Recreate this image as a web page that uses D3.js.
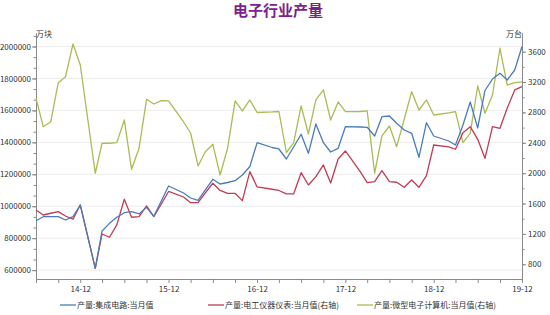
<!DOCTYPE html>
<html>
<head>
<meta charset="utf-8">
<script src="https://cdn.jsdelivr.net/npm/d3@7"></script>
<style>
  body { margin: 0; background: #fff; }
  text { font-family: "Noto Sans CJK SC", "Noto Sans", sans-serif; }
</style>
</head>
<body>
<script>
// monthly data, 2014-06 .. 2019-12 (January not published -> null)
const startMonth = new Date(2014, 5, 1);
const endMonth = new Date(2019, 11, 1);

// 产量:集成电路:当月值 (万块, left axis)
const icOutput = [
  909000, 934500, 934500, 934500, 914000, 934500, 1007800, null,
  611500, 845000, 893000, 930800, 959600, 965800, 951500, 993400, 937000, 1032800, 1126700, null,
  1082900, 1051600, 1036000, 1101700, 1168700, 1139250, 1148600, 1159900, 1195600, 1248800, 1397800, null,
  1367700, 1358400, 1295800, 1370900, 1450400, 1331400, 1514800, 1397800, 1339600, 1362700, 1497900, null,
  1496100, 1494200, 1439700, 1560500, 1564900, 1519200, 1477300, 1456600, 1306400, 1523000, 1439700, null,
  1408400, 1383400, 1508600, 1652600, 1489800, 1724600, 1796600, 1832200, 1790300, 1852900, 2000000
];

// 产量:电工仪器仪表:当月值 (万台, right axis)
const meterOutput = [
  1515, 1449, 1472, 1493, 1436, 1393, 1581, null,
  747, 1199, 1156, 1318, 1656, 1419, 1427, 1568, 1427, 1594, 1759, null,
  1686, 1611, 1611, 1739, 1867, 1772, 1735, 1735, 1638, 2020, 1818, null,
  1788, 1772, 1726, 1726, 2006, 1844, 1954, 2108, 1871, 2187, 2292, null,
  2016, 1875, 1888, 2033, 1888, 1880, 1814, 1910, 1814, 1967, 2371, null,
  2345, 2315, 2533, 2612, 2446, 2196, 2612, 2591, 2859, 3096, 3139
];

// 产量:微型电子计算机:当月值 (万台, right axis)
const pcOutput = [
  2986, 2612, 2678, 3192, 3271, 3701, 3425, null,
  1999, 2394, 2394, 2402, 2701, 2051, 2328, 2973, 2911, 2955, 2951, null,
  2674, 2529, 2095, 2283, 2380, 1976, 2328, 2951, 2819, 2964, 2799, null,
  2806, 2812, 2272, 2398, 2885, 2516, 2964, 3096, 2700, 2938, 2810, null,
  2812, 2819, 1999, 2490, 2621, 2349, 2710, 3073, 2832, 2964, 2766, null,
  2793, 2810, 2402, 2525, 3148, 2789, 3030, 3645, 3161, 3192, 3201
];

const leftTicks = [600000, 800000, 1000000, 1200000, 1400000, 1600000, 1800000, 2000000];
const rightTicks = [800, 1200, 1600, 2000, 2400, 2800, 3200, 3600];
const seriesNames = ['产量:集成电路:当月值', '产量:电工仪器仪表:当月值(右轴)', '产量:微型电子计算机:当月值(右轴)'];
const colors = ['#4a7cbb', '#c23b55', '#a8bd55'];

const months = d3.timeMonth.range(startMonth, d3.timeMonth.offset(endMonth, 1));

const W = 550, H = 315;
const plot = { left: 36, right: 522, top: 33, bottom: 279 };

const svg = d3.select('body').append('svg')
  .attr('width', W).attr('height', H)
  .style('background', '#fff');

const x = d3.scaleTime().domain([startMonth, endMonth]).range([plot.left, plot.right]);
const yL = d3.scaleLinear().domain([544500, 2084500]).range([plot.bottom, plot.top]);
const yR = d3.scaleLinear().domain([606, 3846]).range([plot.bottom, plot.top]);

// title
svg.append('text')
  .attr('x', 278).attr('y', 16)
  .attr('text-anchor', 'middle')
  .attr('font-size', 15).attr('font-weight', 'bold')
  .attr('fill', '#7d1f8c')
  .text('电子行业产量');

// grid
svg.append('g').selectAll('line').data(leftTicks).join('line')
  .attr('x1', plot.left).attr('x2', plot.right)
  .attr('y1', d => yL(d)).attr('y2', d => yL(d))
  .attr('stroke', '#ececec').attr('stroke-width', 1);

const axisColor = '#8a8a8a';
function styleAxis(g) {
  g.selectAll('.domain').attr('stroke', axisColor);
  g.selectAll('line').attr('stroke', axisColor);
  g.selectAll('text').attr('fill', '#333').attr('font-size', 8)
    .style('font-family', '"Noto Sans CJK SC", sans-serif');
}

// left axis: minor ticks every third of a major step
const leftMinor = d3.range(600000, 2066667, 200000 / 3);
svg.append('g').attr('transform', `translate(${plot.left},0)`)
  .call(d3.axisLeft(yL).tickValues(leftMinor).tickSize(2.5).tickFormat('').tickSizeOuter(0))
  .call(styleAxis);
svg.append('g').attr('transform', `translate(${plot.left},0)`)
  .call(d3.axisLeft(yL).tickValues(leftTicks).tickSize(4).tickPadding(1).tickSizeOuter(0)
    .tickFormat(d3.format('d')))
  .call(styleAxis);

// right axis
const rightMinor = d3.range(800, 3800, 200);
svg.append('g').attr('transform', `translate(${plot.right},0)`)
  .call(d3.axisRight(yR).tickValues(rightMinor).tickSize(2.5).tickFormat('').tickSizeOuter(0))
  .call(styleAxis);
svg.append('g').attr('transform', `translate(${plot.right},0)`)
  .call(d3.axisRight(yR).tickValues(rightTicks).tickSize(4).tickPadding(2).tickSizeOuter(0)
    .tickFormat(d3.format('d')))
  .call(styleAxis);

// bottom axis: quarterly ticks, labels at December
const quarterTicks = months.filter(d => d.getMonth() % 3 === 2);
svg.append('g').attr('transform', `translate(0,${plot.bottom})`)
  .call(d3.axisBottom(x).tickValues(quarterTicks).tickSize(4).tickSizeOuter(0)
    .tickFormat(d => d.getMonth() === 11 ? d3.timeFormat('%y-%m')(d) : ''))
  .call(styleAxis);

// units
svg.append('text').attr('x', plot.left).attr('y', 37)
  .attr('font-size', 8).attr('fill', '#333').text('万块');
svg.append('text').attr('x', plot.right).attr('y', 37)
  .attr('text-anchor', 'end').attr('font-size', 8).attr('fill', '#333').text('万台');

// lines
function drawSeries(values, y, color) {
  const pts = months.map((m, i) => [m, values[i]]).filter(d => d[1] != null);
  svg.append('path').datum(pts)
    .attr('fill', 'none').attr('stroke', color).attr('stroke-width', 1.3)
    .attr('stroke-linejoin', 'round')
    .attr('d', d3.line().x(d => x(d[0])).y(d => y(d[1])));
}
drawSeries(pcOutput, yR, colors[2]);
drawSeries(meterOutput, yR, colors[1]);
drawSeries(icOutput, yL, colors[0]);

// legend
const legendX = [60, 208, 357];
const legend = svg.append('g').selectAll('g').data(seriesNames).join('g')
  .attr('transform', (d, i) => `translate(${legendX[i]},305)`);
legend.append('line').attr('x1', 0).attr('x2', 16)
  .attr('stroke', (d, i) => colors[i]).attr('stroke-width', 1.3);
legend.append('text').attr('x', 17).attr('y', 3)
  .attr('font-size', 8).attr('fill', '#333').text(d => d);
</script>
</body>
</html>
